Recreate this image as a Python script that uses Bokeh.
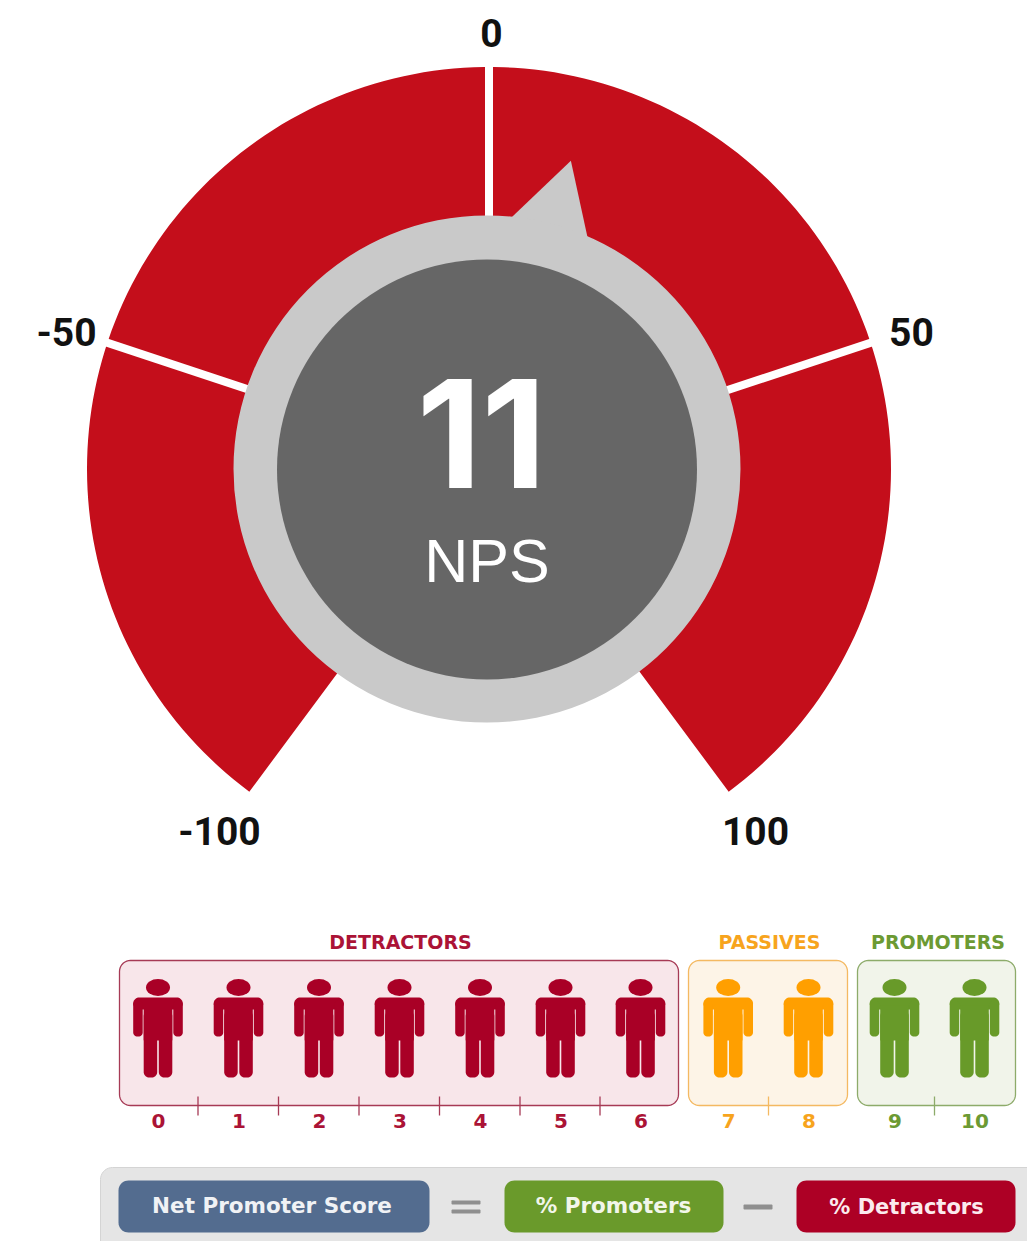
import numpy as np
from bokeh.plotting import figure
from bokeh.models import Range1d
from bokeh.core.properties import value
from bokeh.embed import file_html
from bokeh.resources import INLINE

# ---- data ----
nps_value = 11
nps_label = "NPS"
gauge_ticks = [-100, -50, 0, 50, 100]
gauge_tick_labels = ["-100", "-50", "0", "50", "100"]
scores = [0, 1, 2, 3, 4, 5, 6, 7, 8, 9, 10]
group_names = ["DETRACTORS", "PASSIVES", "PROMOTERS"]
group_scores = [[0, 1, 2, 3, 4, 5, 6], [7, 8], [9, 10]]
formula_labels = ["Net Promoter Score", "% Promoters", "% Detractors"]

# ---- style / layout ----
W, H = 1027, 1241
CX, CY = 488.5, 468.5
R_OUT, R_RING, R_DARK = 402, 253.5, 210
SPAN = 143.4
RED, RING, DARK = "#c40e1b", "#c9c9c9", "#666666"
GROUP_COL = ["#a90026", "#ff9f00", "#689a29"]
GROUP_TEXT = ["#ab1336", "#f7a41d", "#6c9a33"]
GROUP_FILL = ["#f8e6ea", "#fdf4e7", "#f1f4ea"]
GROUP_LINE = ["#a63a55", "#f4b962", "#8dab6a"]
BOX_X = [(119, 678), (688, 847), (857, 1015)]
PERSON_X = [157.5, 238, 318.5, 399, 479.5, 560, 640, 727.7, 808, 894, 974]
TICK_X = [[197.5, 278, 358.5, 439, 519.5, 599.5], [768], [934]]
TITLE_X = [400, 769, 937.5]
LABEL_POS = {-100: (219, 830), -50: (66, 331), 0: (491, 32), 50: (911, 331), 100: (755, 830)}

p = figure(width=W, height=H, x_range=Range1d(0, W), y_range=Range1d(H, 0),
           output_backend="svg", toolbar_location=None, min_border=0)
p.axis.visible = False
p.grid.visible = False
p.outline_line_color = None
p.background_fill_color = "white"


def ang(v):
    return np.radians(v / 100 * SPAN)


def polar(r, a):
    return CX + r * np.sin(a), CY - r * np.cos(a)


def rrect(x0, x1, y0, y1, r):
    xs, ys = [], []
    for cx, cy, a0 in [(x1 - r, y0 + r, -90), (x1 - r, y1 - r, 0), (x0 + r, y1 - r, 90), (x0 + r, y0 + r, 180)]:
        t = np.radians(np.linspace(a0, a0 + 90, 10))
        xs += list(cx + r * np.cos(t))
        ys += list(cy + r * np.sin(t))
    return xs, ys


def box(x0, x1, y0, y1, r, fill, line=None, lw=1):
    xs, ys = rrect(x0, x1, y0, y1, r)
    p.patch(xs, ys, fill_color=fill, line_color=line, line_width=lw)


def txt(x, y, s, size, color, font="Liberation Sans", style="normal"):
    p.text([x], [y], text=[s], text_font=value(font), text_font_size=f"{size}px",
           text_font_style=style, text_color=color, text_align="center", text_baseline="middle")


# gauge
a = np.linspace(ang(gauge_ticks[0]), ang(gauge_ticks[-1]), 200)
ox, oy = polar(R_OUT, a)
p.patch(list(ox) + [CX], list(oy) + [CY], fill_color=RED, line_color=None)
for t in gauge_ticks[1:-1]:
    x1, y1 = polar(R_OUT + 6, ang(t))
    p.segment([CX], [CY], [x1], [y1], line_color="white", line_width=8)
for t, lab in zip(gauge_ticks, gauge_tick_labels):
    lx, ly = LABEL_POS[t]
    txt(lx, ly, lab, 39, "#111111", "Roboto", "bold")

# pointer + dial
a0 = ang(nps_value)
pts = [polar(R_RING - 2, a0 - np.radians(10.9)), polar(319, a0 - np.radians(0.9)), polar(R_RING - 2, a0 + np.radians(7.3))]
p.patch([q[0] for q in pts], [q[1] for q in pts], fill_color=RING, line_color=None)
p.circle([486.5], [468.5], radius=R_RING, fill_color=RING, line_color=None)
p.circle([486.5], [469], radius=R_DARK, fill_color=DARK, line_color=None)
txt(481, 433, str(nps_value), 150, "white", "Inter", "bold")
txt(486.5, 560, nps_label, 61, "white")


def person(c, col):
    p.ellipse([c], [987], width=24, height=17, fill_color=col, line_color=None)
    box(c - 24.8, c + 24.8, 997, 1009, 6, col)
    for s in (-1, 1):
        xa = sorted([c + s * 15.3, c + s * 24.8])
        box(xa[0], xa[1], 1000, 1036, 4, col)
        xl = sorted([c + s * 0.8, c + s * 14.3])
        box(xl[0], xl[1], 1010, 1077, 5.5, col)
    box(c - 14.3, c + 14.3, 1005, 1040, 0.5, col)


# scale groups
for g, name in enumerate(group_names):
    box(BOX_X[g][0], BOX_X[g][1], 960, 1105, 11, GROUP_FILL[g], GROUP_LINE[g], 1.3)
    txt(TITLE_X[g], 941, name, 19, GROUP_TEXT[g], "DejaVu Sans", "bold")
    for tx in TICK_X[g]:
        p.segment([tx], [1096], [tx], [1115], line_color=GROUP_LINE[g], line_width=1.3)
    for s in group_scores[g]:
        person(PERSON_X[s], GROUP_COL[g])
        txt(PERSON_X[s] + 0.5, 1120.5, str(scores[s]), 20, GROUP_TEXT[g], "DejaVu Sans", "bold")

# formula band
box(100, 1060, 1167, 1290, 12, "#e5e5e5", "#d4d4d4", 1)
box(118, 429, 1180, 1232, 10, "#536c8f")
box(504, 723, 1180, 1232, 10, "#6a9a2b")
box(796, 1015, 1180, 1232, 10, "#ad0025")
box(451, 480, 1200, 1204, 1, "#8f8f8f")
box(451, 480, 1209, 1213, 1, "#8f8f8f")
box(743, 772, 1204, 1209, 1, "#8f8f8f")
txt(271.5, 1205, formula_labels[0], 21.5, "#f0f2f5", "DejaVu Sans", "bold")
txt(613, 1205, formula_labels[1], 21.5, "#f2f6ea", "DejaVu Sans", "bold")
txt(906, 1206, formula_labels[2], 21, "#fbeaee", "DejaVu Sans", "bold")

open("out.html", "w").write(file_html(p, INLINE))
